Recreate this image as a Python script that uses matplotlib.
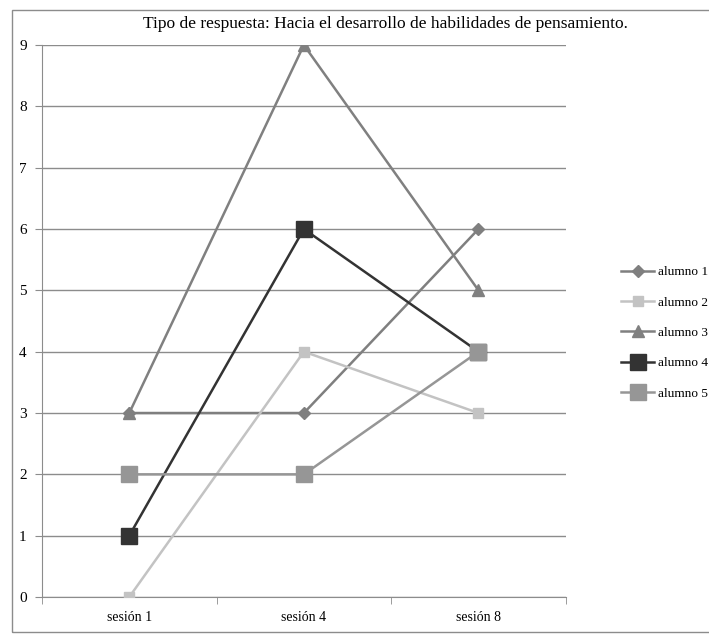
import matplotlib.pyplot as plt
from matplotlib.patches import Rectangle

plt.rcParams['font.family'] = ['Liberation Serif', 'DejaVu Serif']

sessions = ["sesión 1", "sesión 4", "sesión 8"]
names = ["alumno 1", "alumno 2", "alumno 3", "alumno 4", "alumno 5"]
alumno1 = [3, 3, 6]
alumno2 = [0, 4, 3]
alumno3 = [3, 9, 5]
alumno4 = [1, 6, 4]
alumno5 = [2, 2, 4]

styles = [
    dict(color="#7f7f7f", marker="D", ms=6),
    dict(color="#c3c3c3", marker="s", ms=7),
    dict(color="#808080", marker="^", ms=8),
    dict(color="#333333", marker="s", ms=11),
    dict(color="#969696", marker="s", ms=11),
]

fig = plt.figure(figsize=(7.09, 6.36), dpi=100)
ax = fig.add_axes([0.0592, 0.0613, 0.7388, 0.8679])

# outer chart frame
fig.patches.append(Rectangle((0.017, 0.006), 1.2, 0.978, transform=fig.transFigure,
                             fill=False, edgecolor="#8c8c8c", linewidth=1.0))

x = list(range(len(sessions)))
for name, vals, st in zip(names, [alumno1, alumno2, alumno3, alumno4, alumno5], styles):
    ax.plot(x, vals, color=st["color"], marker=st["marker"], markersize=st["ms"],
            linewidth=1.8, label=name, zorder=3)

ax.set_xlim(-0.5, 2.5)
ax.set_ylim(0, 9)
ax.set_yticks(range(10))
ax.set_xticks(x)
ax.set_xticklabels(sessions, fontsize=10)
ax.set_xticks([-0.5, 0.5, 1.5, 2.5], minor=True)
ax.tick_params(axis="x", which="major", length=0, pad=10)
ax.tick_params(axis="x", which="minor", length=5, color="#8c8c8c", direction="out")
ax.tick_params(axis="y", length=5, color="#8c8c8c", labelsize=11, pad=6)
ax.grid(axis="y", color="#8c8c8c", linewidth=1.0)
ax.set_axisbelow(True)
for side in ["top", "right"]:
    ax.spines[side].set_visible(False)
for side in ["left", "bottom"]:
    ax.spines[side].set_color("#8c8c8c")

fig.text(0.543, 0.963, "Tipo de respuesta: Hacia el desarrollo de habilidades de pensamiento.",
         ha="center", va="center", fontsize=12.5)

fig.legend(loc="upper left", bbox_to_anchor=(0.869, 0.590), frameon=False,
           fontsize=9.5, handlelength=2.5, labelspacing=1.37, handletextpad=0.3,
           borderaxespad=0)

fig.savefig("out.png", dpi=100)
